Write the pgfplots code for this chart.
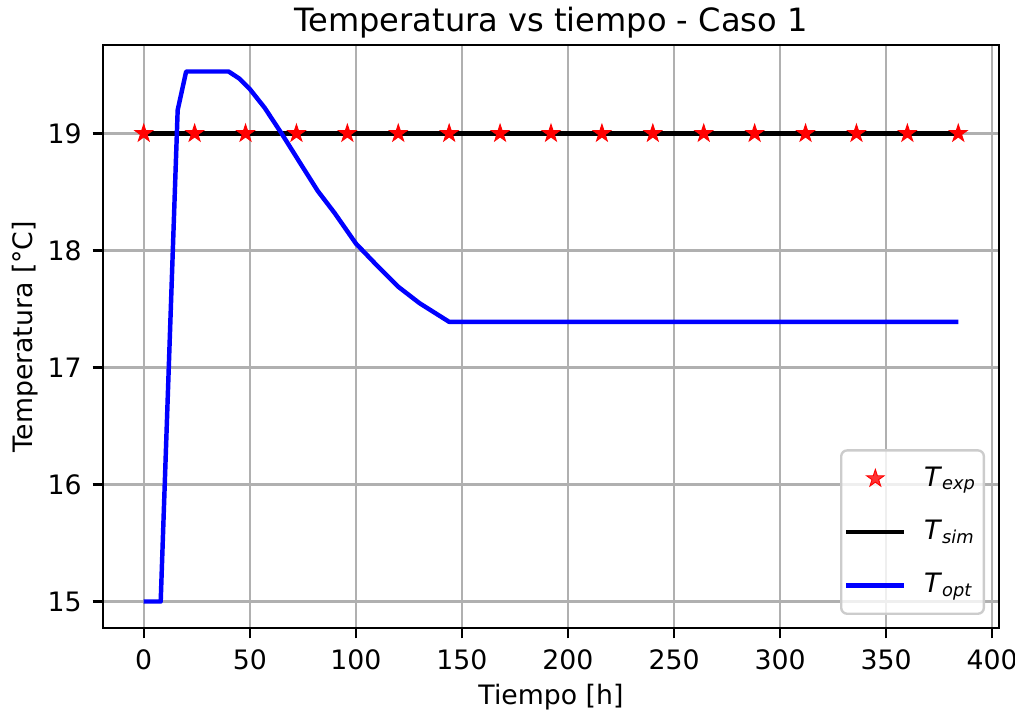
\documentclass[border=0pt]{standalone}
\usepackage{fontspec}
\setmainfont{DejaVu Sans}
\usepackage{pgfplots}
\pgfplotsset{compat=1.18}

% filled five-pointed star
\pgfdeclareplotmark{fstar}{%
  \pgfpathmoveto{\pgfpointpolar{90}{\pgfplotmarksize}}%
  \pgfpathlineto{\pgfpointpolar{126}{0.382\pgfplotmarksize}}%
  \pgfpathlineto{\pgfpointpolar{162}{\pgfplotmarksize}}%
  \pgfpathlineto{\pgfpointpolar{198}{0.382\pgfplotmarksize}}%
  \pgfpathlineto{\pgfpointpolar{234}{\pgfplotmarksize}}%
  \pgfpathlineto{\pgfpointpolar{270}{0.382\pgfplotmarksize}}%
  \pgfpathlineto{\pgfpointpolar{306}{\pgfplotmarksize}}%
  \pgfpathlineto{\pgfpointpolar{342}{0.382\pgfplotmarksize}}%
  \pgfpathlineto{\pgfpointpolar{18}{\pgfplotmarksize}}%
  \pgfpathlineto{\pgfpointpolar{54}{0.382\pgfplotmarksize}}%
  \pgfpathclose
  \pgfusepathqfillstroke
}

\definecolor{gridgray}{HTML}{B0B0B0}
\definecolor{legedge}{HTML}{CCCCCC}

\begin{document}
\begin{tikzpicture}
\begin{axis}[
  at={(0,0)}, anchor=south west,
  scale only axis,
  width=301.68pt, height=196.3pt,
  xmin=-19.2, xmax=403.2,
  ymin=14.7735, ymax=19.7565,
  xtick={0,50,...,400},
  ytick={15,16,17,18,19},
  xtick pos=bottom, ytick pos=left,
  tick align=outside,
  major tick length=3.5pt,
  tick style={black, line width=0.8pt},
  axis line style={black, line width=0.8pt},
  grid=major,
  grid style={gridgray, line width=0.8pt},
  /pgf/number format/assume math mode=true,
  ticklabel style={font=\fontsize{9}{11}\selectfont},
  xticklabel style={inner sep=0pt, yshift=-3.5pt},
  yticklabel style={inner sep=0pt, xshift=-3.5pt},
  every axis title/.style={at={(0.5,1)}, anchor=base, yshift=4.4pt,
    font=\fontsize{10.8}{13}\selectfont},
  title={Temperatura vs tiempo - Caso 1},
  every axis x label/.style={at={(axis description cs:0.5,-0.132)}, anchor=base,
    font=\fontsize{9}{11}\selectfont},
  every axis y label/.style={at={(axis description cs:-0.0792,0.5)}, rotate=90, anchor=base,
    font=\fontsize{9}{11}\selectfont},
  xlabel={Tiempo [h]},
  ylabel={Temperatura [°C]},
  legend cell align=left,
  legend image code/.code={%
    \draw[mark repeat=2, mark phase=2] plot coordinates {(0pt,0pt) (9.75pt,0pt) (19.5pt,0pt)};},
  legend style={at={(1,0)}, anchor=south east, xshift=-4.7pt, yshift=4.4pt,
    draw=legedge, line width=0.8pt, rounded corners=2pt,
    fill=white, fill opacity=0.8, text opacity=1,
    font=\fontsize{9}{11}\selectfont,
    inner xsep=1pt, inner ysep=3pt,
    row sep=5pt, column sep=4.4pt,
    nodes={inner xsep=1.5pt, inner ysep=1pt, text height=8pt, text depth=3pt}},
]
% experimental readings, every 24 h
\addplot[only marks, mark=fstar, mark size=3.1pt, draw=red, fill=red, line width=0.3pt]
  coordinates {(0,19) (24,19) (48,19) (72,19) (96,19) (120,19) (144,19) (168,19)
    (192,19) (216,19) (240,19) (264,19) (288,19) (312,19) (336,19) (360,19) (384,19)};
\addlegendentry{\textit{T}\textsubscript{\textit{exp}}}
% simulated temperature
\addplot[black, line width=1.5pt, mark=none] coordinates {(0,19) (384,19)};
\addlegendentry{\textit{T}\textsubscript{\textit{sim}}}
% optimised temperature
\addplot[blue, line width=1.5pt, mark=none, line join=round] coordinates {
  (0,15) (8,15) (12,17.1) (16,19.2) (20,19.53) (40,19.53) (45,19.47) (50,19.38)
  (57,19.22) (65,19.0) (74,18.74) (82,18.51) (90,18.32) (100,18.06) (109,17.89)
  (120,17.69) (130,17.55) (137,17.47) (144,17.39) (384,17.39)};
\addlegendentry{\textit{T}\textsubscript{\textit{opt}}}
\end{axis}
\pgfresetboundingbox
\useasboundingbox (-34.68pt,-28.62pt) rectangle (307.07pt,211.45pt);
\end{tikzpicture}
\end{document}
